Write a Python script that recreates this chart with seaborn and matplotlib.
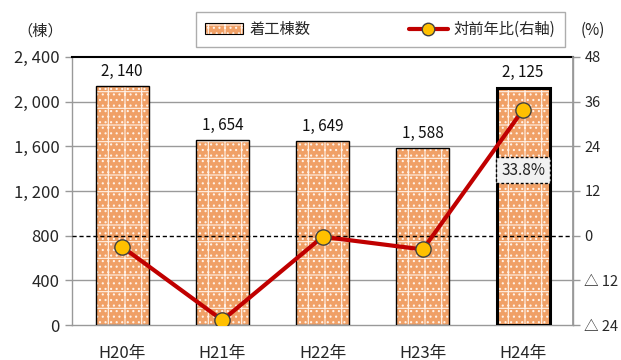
import matplotlib
matplotlib.use("Agg")
import matplotlib.pyplot as plt
from matplotlib.patches import Patch, Rectangle
from matplotlib.lines import Line2D
from matplotlib.legend_handler import HandlerTuple
import seaborn as sns
import pandas as pd

years = ["H20年", "H21年", "H22年", "H23年", "H24年"]
starts = [2140, 1654, 1649, 1588, 2125]
yoy_pct = [-3.0, -22.7, -0.3, -3.7, 33.8]
left_ticks = [0, 400, 800, 1200, 1600, 2000, 2400]
right_ticks = [-24, -12, 0, 12, 24, 36, 48]

sns.set_theme(style="white")
plt.rcParams["font.family"] = ["Noto Sans CJK JP", "DejaVu Sans"]
plt.rcParams["hatch.linewidth"] = 0.8

df = pd.DataFrame({"year": years, "starts": starts, "pct": yoy_pct})

fig = plt.figure(figsize=(6.21, 3.6), dpi=100)
ax = fig.add_axes([0.116, 0.097, 0.807, 0.745])

bar_face = "#F0A066"
bar_hatch = "+..."
hatch_col = "#FFF2E8"
sns.barplot(data=df, x="year", y="starts", ax=ax, color=bar_face,
            width=0.53, saturation=1, edgecolor=hatch_col, linewidth=0,
            hatch=bar_hatch, zorder=2)
for i, p in enumerate(ax.patches):
    ax.add_patch(Rectangle(p.get_xy(), p.get_width(), p.get_height(),
                           fill=False, edgecolor="black",
                           linewidth=2.2 if i == len(starts) - 1 else 1.0,
                           zorder=3))
    ax.text(p.get_x() + p.get_width() / 2, starts[i] + 55,
            f"{starts[i]:,}".replace(",", ", "),
            ha="center", va="bottom", fontsize=11, color="#111111")

ax.set_ylim(0, 2400)
ax.set_yticks(left_ticks)
ax.set_yticklabels([f"{v:,}".replace(",", ", ") for v in left_ticks], fontsize=12)
ax.set_xlim(-0.5, len(years) - 0.5)
ax.set_xlabel("")
ax.set_ylabel("")
ax.set_xticks(range(len(years)))
ax.set_xticklabels(years, fontsize=12)
ax.set_xticks([x - 0.5 for x in range(len(years) + 1)], minor=True)
ax.tick_params(axis="x", which="major", length=0, pad=14)
ax.tick_params(axis="x", which="minor", length=5, color="#999999", width=1)
ax.tick_params(axis="y", length=5, color="#999999", width=1, pad=4, direction="out")
for v in left_ticks[1:-1]:
    if v == 800:
        continue
    ax.axhline(v, color="#9a9a9a", linewidth=1, zorder=1)
ax.axhline(800, color="black", linewidth=1, linestyle=(0, (3, 2)), zorder=4)

for s in ["left", "bottom", "right"]:
    ax.spines[s].set_color("#999999")
    ax.spines[s].set_linewidth(1)
ax.spines["top"].set_color("black")
ax.spines["top"].set_linewidth(1.5)

ax2 = ax.twinx()
sns.lineplot(data=df, x="year", y="pct", ax=ax2, color="#C00000",
             linewidth=3, marker="o", markersize=11,
             markerfacecolor="#FFC000", markeredgecolor="#404040",
             markeredgewidth=1, zorder=5)
ax2.set_ylim(-24, 48)
ax2.set_yticks(right_ticks)
ax2.set_yticklabels([f"△ {-v}" if v < 0 else f"{v}" for v in right_ticks], fontsize=10.5)
ax2.set_ylabel("")
ax2.tick_params(axis="y", length=5, color="#999999", width=1, pad=3, direction="out")
for s in ax2.spines.values():
    s.set_visible(False)
ax2.spines["right"].set_visible(True)
ax2.spines["right"].set_color("#999999")
ax2.grid(False)
ax.set_zorder(1)
ax2.set_zorder(2)
ax2.patch.set_visible(False)

ax2.text(4, 17.6, f"{yoy_pct[-1]}%", ha="center", va="center", fontsize=11,
         color="#222222",
         bbox=dict(boxstyle="square,pad=0.3", facecolor="#F2F2F2",
                   edgecolor="black", linestyle=(0, (2, 1.5)), linewidth=1))

fig.text(0.065, 0.915, "（棟）", ha="center", va="center", fontsize=11)
fig.text(0.955, 0.915, "(%)", ha="center", va="center", fontsize=11, color="#222222")

bar_handle = (Patch(facecolor=bar_face, edgecolor=hatch_col, hatch=bar_hatch, linewidth=0),
              Patch(fill=False, edgecolor="black", linewidth=0.8))
line_handle = Line2D([0], [0], color="#C00000", linewidth=3, marker="o", markersize=9,
                     markerfacecolor="#FFC000", markeredgecolor="#404040")
leg = fig.legend([bar_handle, line_handle], ["着工棟数", "対前年比(右軸)"], ncol=2,
                 loc="center", bbox_to_anchor=(0.612, 0.918),
                 frameon=True, fancybox=False, fontsize=11,
                 handlelength=2.5, columnspacing=6.5, borderpad=0.6,
                 handletextpad=0.4,
                 handler_map={tuple: HandlerTuple(ndivide=1, pad=0)})
leg.get_frame().set_edgecolor("#999999")
leg.get_frame().set_linewidth(1)
leg.get_frame().set_boxstyle("square", pad=0.0)

fig.savefig("out.png", dpi=100)
